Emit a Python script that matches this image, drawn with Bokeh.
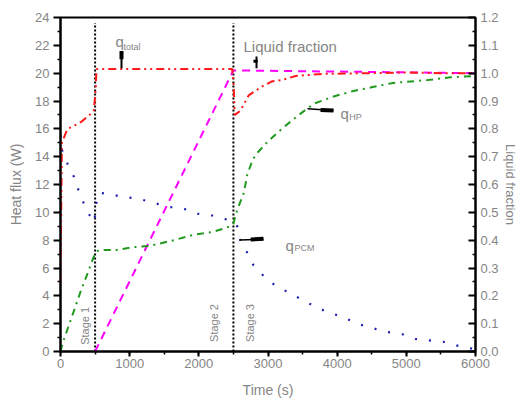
import numpy as np
from bokeh.plotting import figure
from bokeh.models import Range1d, LinearAxis, SingleIntervalTicker, FixedTicker, PrintfTickFormatter
from bokeh.core.properties import value
from bokeh.embed import file_html
from bokeh.resources import INLINE

# ---- data ----
t_total = [0, 20, 100, 150, 300, 420, 480, 500, 510, 520, 1000, 1500, 2000, 2480, 2500, 2520, 2600, 2720, 2900, 3050, 3200, 3400, 3800, 4500, 5000, 5500, 6000]
q_total = [5.0, 15.0, 16.0, 16.1, 16.5, 17.0, 17.3, 18.3, 19.0, 20.3, 20.3, 20.3, 20.3, 20.3, 19.5, 17.0, 17.3, 18.4, 19.0, 19.4, 19.5, 19.8, 19.95, 20.0, 20.05, 20.0, 20.0]

t_hp = [0, 30, 115, 200, 290, 390, 480, 520, 580, 820, 1060, 1300, 1640, 1930, 2210, 2460, 2500, 2550, 2650, 2700, 2780, 2850, 3000, 3200, 3420, 3660, 3930, 4220, 4510, 4810, 5300, 5640, 6000]
q_hp = [0, 0.6, 1.8, 3.0, 4.3, 5.6, 6.8, 7.2, 7.3, 7.3, 7.5, 7.6, 8.0, 8.4, 8.6, 9.0, 9.2, 10.1, 11.4, 12.7, 13.8, 14.3, 15.1, 16.0, 16.9, 17.8, 18.3, 18.7, 19.0, 19.3, 19.5, 19.7, 19.8]

t_pcm = [0, 20, 100, 190, 260, 340, 420, 490, 510, 560, 720, 910, 1110, 1340, 1540, 1760, 1980, 2170, 2390, 2550, 2600, 2700, 2790, 2940, 3090, 3310, 3500, 3690, 3880, 4070, 4290, 4500, 4710, 4910, 5130, 5330, 5530, 5750, 5960]
q_pcm = [15.5, 14.5, 13.5, 12.6, 11.6, 10.6, 9.8, 9.3, 10.5, 11.4, 11.3, 11.1, 11.0, 10.7, 10.4, 10.3, 9.9, 9.8, 9.5, 9.1, 8.0, 7.1, 6.2, 5.4, 4.8, 4.2, 3.7, 3.2, 2.8, 2.5, 2.0, 1.7, 1.4, 1.3, 0.9, 0.8, 0.7, 0.4, 0.2]

t_lf = [500, 2500, 6000]
liquid_fraction = [0.0, 1.01, 1.0]

stage_bounds = [500, 2500]
stage_names = ["Stage 1", "Stage 2", "Stage 3"]

left_ticks = list(range(0, 25, 2))
right_ticks = [round(0.1 * i, 1) for i in range(13)]

FONT = "Liberation Sans"
GRAY = "#858585"

p = figure(width=520, height=401, x_range=Range1d(0, 6000), y_range=Range1d(0, 24),
           output_backend="svg", toolbar_location=None,
           min_border_left=60, min_border_right=45, min_border_top=17, min_border_bottom=50)
p.grid.visible = False
p.outline_line_color = "black"
p.outline_line_width = 2
p.background_fill_color = "white"

p.extra_y_ranges = {"lf": Range1d(0, 1.2)}

def style_axis(ax):
    ax.axis_line_width = 2
    ax.axis_line_color = "black"
    ax.major_tick_line_width = 2
    ax.minor_tick_line_width = 1.5
    ax.major_label_text_font = FONT
    ax.major_label_text_font_size = "13px"
    ax.major_label_text_color = GRAY
    ax.axis_label_text_font = FONT
    ax.axis_label_text_font_size = "14px"
    ax.axis_label_text_color = GRAY
    ax.axis_label_text_font_style = "normal"

xa = p.xaxis[0]
xa.ticker = SingleIntervalTicker(interval=1000, num_minor_ticks=2)
xa.axis_label = "Time (s)"
style_axis(xa)
xa.major_tick_out = 5
xa.major_tick_in = 0
xa.minor_tick_out = 3
xa.minor_tick_in = 0
xa.major_label_standoff = 2
xa.axis_label_standoff = 11

ya = p.yaxis[0]
ya.ticker = FixedTicker(ticks=left_ticks, minor_ticks=list(range(1, 24, 2)))
ya.axis_label = "Heat flux (W)"
style_axis(ya)
ya.major_tick_out = 7
ya.major_tick_in = 0
ya.minor_tick_out = 3
ya.minor_tick_in = 0
ya.major_label_standoff = 4
ya.axis_label_standoff = 8

ra = LinearAxis(y_range_name="lf", axis_label="Liquid fraction")
ra.ticker = FixedTicker(ticks=right_ticks, minor_ticks=[round(0.05 + 0.1 * i, 2) for i in range(12)])
ra.formatter = PrintfTickFormatter(format="%.1f")
style_axis(ra)
ra.major_tick_in = 7
ra.major_tick_out = 0
ra.minor_tick_in = 3
ra.minor_tick_out = 0
ra.major_label_standoff = 5
ra.axis_label_standoff = 1
ra.axis_label_text_font_size = "13px"
p.add_layout(ra, "right")

# stage boundaries
p.segment(x0=stage_bounds, y0=[0, 0], x1=stage_bounds, y1=[23.6, 23.6],
          line_color="black", line_width=2, line_dash="2 2")

# curves
p.line(t_lf, liquid_fraction, y_range_name="lf", line_color="#ff00ff", line_width=2, line_dash="8 6")
p.line(t_pcm, q_pcm, line_color="#1c1cb0", line_width=2.2, line_dash="2 12")
p.line(t_hp, q_hp, line_color="#1f9a1f", line_width=2, line_dash="7 5 2 5")
p.line(t_total, q_total, line_color="#ff1a1a", line_width=2, line_dash="8 4 2 4 2 4")

# annotations
def txt(x, y, s, size, **kw):
    p.text(x=[x], y=[y], text=[s], text_font=value(FONT), text_font_size=size,
           text_color=GRAY, text_baseline=kw.pop("baseline", "alphabetic"),
           text_align=kw.pop("align", "left"), **kw)

txt(795, 22.27, "q", "15px")
txt(911, 21.9, "total", "9px")
txt(2646, 21.91, "Liquid fraction", "15px")
txt(4048, 17.09, "q", "15px")
txt(4175, 16.85, "HP", "9px")
txt(3253, 7.59, "q", "15px")
txt(3383, 7.45, "PCM", "9px")

# pointer marks
p.segment(x0=[882], y0=[20.35], x1=[882], y1=[21.6], line_color="black", line_width=2)
p.segment(x0=[882], y0=[21.0], x1=[882], y1=[21.6], line_color="black", line_width=4)
p.segment(x0=[2834], y0=[20.35], x1=[2834], y1=[21.2], line_color="black", line_width=2)
p.segment(x0=[2790], y0=[20.85], x1=[2850], y1=[20.85], line_color="black", line_width=3)
p.segment(x0=[3571], y0=[17.45], x1=[3947], y1=[17.31], line_color="black", line_width=1.5)
p.segment(x0=[3760], y0=[17.36], x1=[3947], y1=[17.31], line_color="black", line_width=4)
p.segment(x0=[2588], y0=[8.02], x1=[2935], y1=[8.05], line_color="black", line_width=1.5)
p.segment(x0=[2750], y0=[8.05], x1=[2935], y1=[8.1], line_color="black", line_width=4)

# stage labels (rotated)
stage_x = [354, 2219, 2733]
stage_y = [1.84, 2.05, 2.05]
p.text(x=stage_x, y=stage_y, text=stage_names, angle=np.pi / 2,
       text_font=value(FONT), text_font_size="11px", text_color=GRAY,
       text_align="center", text_baseline="middle")

open("out.html", "w").write(file_html(p, INLINE))
